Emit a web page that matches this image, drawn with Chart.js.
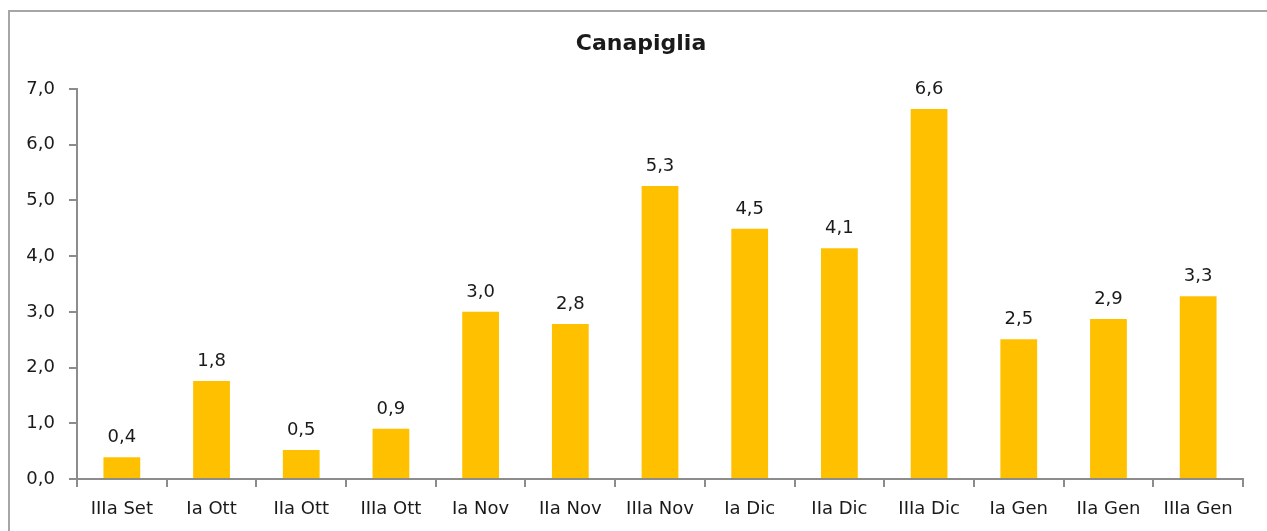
<!DOCTYPE html>
<html>
<head>
<meta charset="utf-8">
<script src="https://cdn.jsdelivr.net/npm/chart.js@4/dist/chart.umd.min.js"></script>
<style>
    html, body { margin: 0; padding: 0; background: #fff; overflow: hidden; }
    #frame {
        position: absolute; left: 8px; top: 10px;
        width: 1300px; height: 600px;
        border: 2px solid #a6a6a6;
    }
    #wrap { position: absolute; left: 0; top: 0; width: 1267px; height: 531px; }
</style>
</head>
<body>
<div id="frame"></div>
<div id="wrap"><canvas id="chart"></canvas></div>
<script>
// Data
const chartTitle = 'Canapiglia';
const categories = ['IIIa Set', 'Ia Ott', 'IIa Ott', 'IIIa Ott', 'Ia Nov', 'IIa Nov', 'IIIa Nov',
    'Ia Dic', 'IIa Dic', 'IIIa Dic', 'Ia Gen', 'IIa Gen', 'IIIa Gen'];
const values = [0.39, 1.76, 0.52, 0.90, 3.00, 2.78, 5.26, 4.49, 4.14, 6.64, 2.51, 2.87, 3.28];
const yTicks = [0, 1, 2, 3, 4, 5, 6, 7];

const FONT = "'DejaVu Sans', Verdana, sans-serif";
const fmt = v => v.toFixed(1).replace('.', ',');

// Value labels above the bars + title centred on the frame
const valueLabels = {
    id: 'valueLabels',
    afterDatasetsDraw(chart) {
        const ctx = chart.ctx;
        const meta = chart.getDatasetMeta(0);
        ctx.save();
        ctx.font = '18px ' + FONT;
        ctx.fillStyle = '#1a1a1a';
        ctx.textAlign = 'center';
        ctx.textBaseline = 'alphabetic';
        meta.data.forEach((bar, i) => {
            ctx.fillText(fmt(values[i]), bar.x, bar.y - 15);
        });
        ctx.font = 'bold 22px ' + FONT;
        ctx.textBaseline = 'middle';
        ctx.fillText(chartTitle, 641, 44);
        ctx.restore();
    }
};

function initChart() {
    const ctx = document.getElementById('chart').getContext('2d');
    new Chart(ctx, {
        type: 'bar',
        data: {
            labels: categories,
            datasets: [{
                data: values,
                backgroundColor: '#FFC000',
                borderWidth: 0,
                categoryPercentage: 1,
                barPercentage: 0.41
            }]
        },
        options: {
            responsive: true,
            maintainAspectRatio: false,
            animation: false,
            layout: { padding: { left: 0, right: 24, top: 89, bottom: 0 } },
            plugins: {
                legend: { display: false },
                tooltip: { enabled: false },
                title: { display: false }
            },
            scales: {
                x: {
                    offset: true,
                    grid: { offset: true, drawOnChartArea: false, drawTicks: true, tickLength: 8, color: '#8c8c8c', lineWidth: 2 },
                    border: { display: true, color: '#8c8c8c', width: 2 },
                    ticks: { color: '#1a1a1a', font: { family: FONT, size: 18 }, padding: 12, maxRotation: 0, autoSkip: false },
                    afterFit(scale) { scale.height = 52; }
                },
                y: {
                    min: 0,
                    max: 7,
                    afterBuildTicks(scale) { scale.ticks = yTicks.map(v => ({ value: v })); },
                    grid: { drawOnChartArea: false, drawTicks: true, tickLength: 8, color: '#8c8c8c', lineWidth: 2 },
                    border: { display: true, color: '#8c8c8c', width: 2 },
                    ticks: { color: '#1a1a1a', font: { family: FONT, size: 18 }, padding: 14, callback: v => fmt(v) },
                    afterFit(scale) { scale.width = 77; }
                }
            }
        },
        plugins: [valueLabels]
    });
}

document.addEventListener('DOMContentLoaded', initChart);
</script>
</body>
</html>
